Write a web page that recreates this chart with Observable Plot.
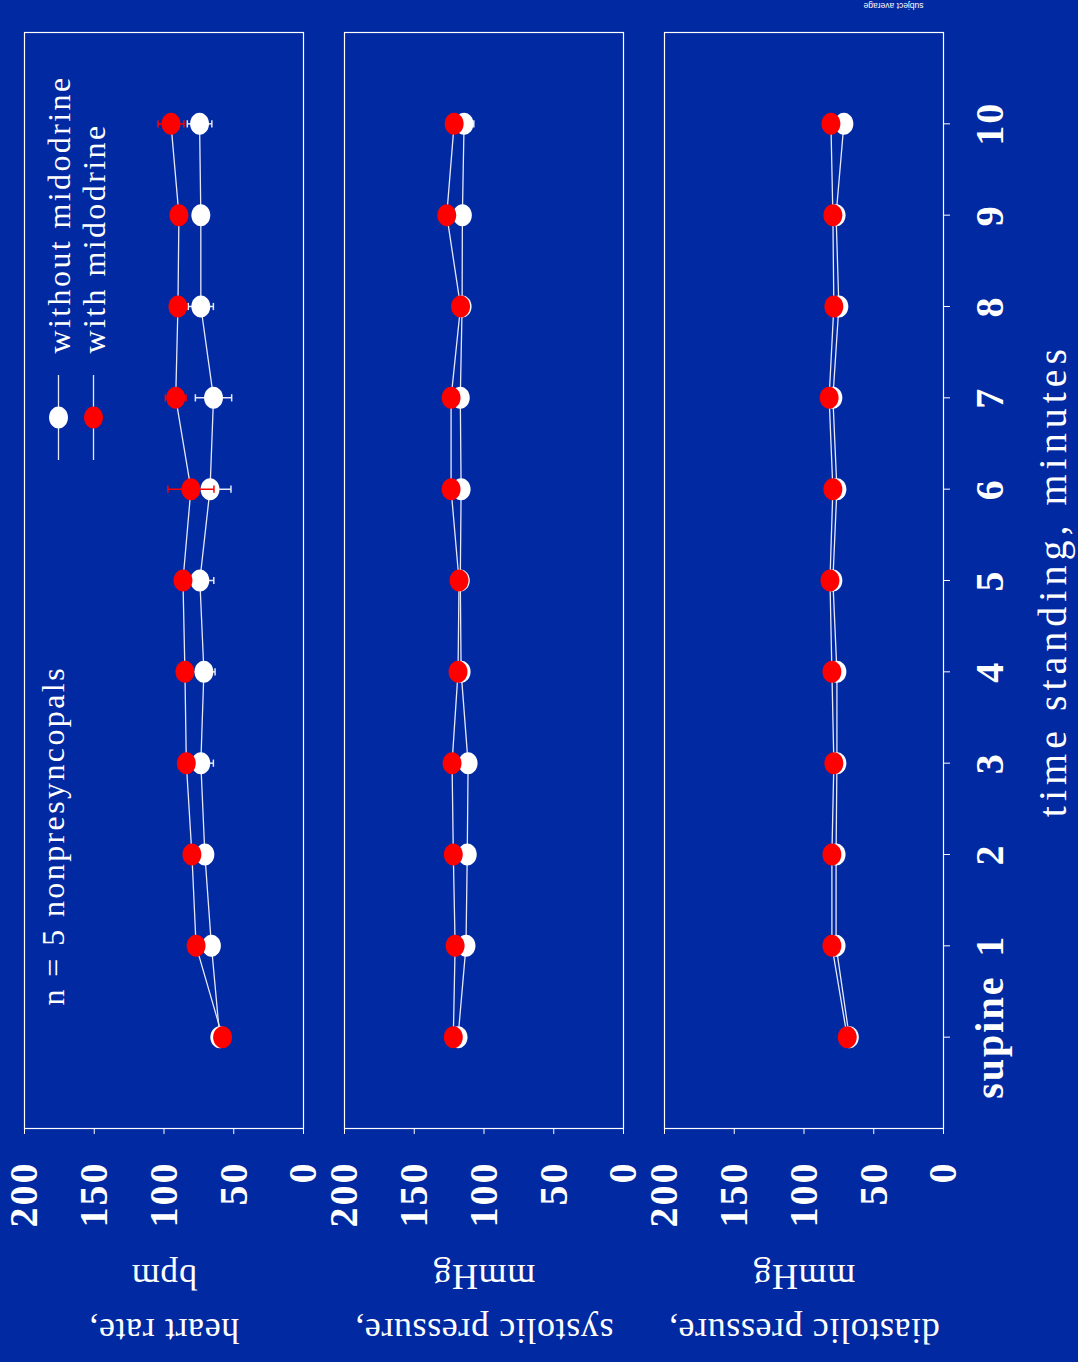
<!DOCTYPE html>
<html>
<head>
<meta charset="utf-8">
<script src="https://cdn.jsdelivr.net/npm/d3@7"></script>
<script src="https://cdn.jsdelivr.net/npm/@observablehq/plot@0.6"></script>
<style>
  html, body { margin: 0; padding: 0; background: #0029a2; }
  body { width: 1078px; height: 1362px; overflow: hidden; }
  #chart { position: absolute; left: 0; top: 0; }
</style>
</head>
<body>
<div id="chart"></div>
<script>
// Time points while standing (0 = supine) and their labels
const times = [0, 1, 2, 3, 4, 5, 6, 7, 8, 9, 10];
const timeLabels = ["supine", "1", "2", "3", "4", "5", "6", "7", "8", "9", "10"];
const valueTicks = [0, 50, 100, 150, 200];

const panels = ["hr", "sys", "dia"];
const panelTitles = ["heart rate,\nbpm", "systolic pressure,\nmmHg", "diastolic pressure,\nmmHg"];
const seriesNames = ["without midodrine", "with midodrine"];
const groupNote = "n = 5 nonpresyncopals";
const timeTitle = "time standing, minutes";
const footnote = "subject average";

// Heart rate, bpm (mean and standard error)
const hrWithout   = [60, 66, 70.7, 73.6, 71.4, 74.3, 67, 64.5, 73.6, 73.6, 74.5];
const hrWithoutSE = [2, 5, 6, 9, 8, 10, 15, 13, 9, 3, 8.8];
const hrWith      = [58, 77, 80, 84, 85, 86.4, 80.7, 91.6, 90, 89.3, 95];
const hrWithSE    = [2, 4, 2, 3, 2, 3, 16.5, 7.4, 4, 5, 9.3];

// Systolic pressure, mmHg
const sysWithout   = [118.6, 112.9, 112, 111.4, 116.4, 117, 116.4, 117, 115.7, 115.5, 114.3];
const sysWithoutSE = [3, 3, 3, 3, 3, 3, 3, 3, 3, 3, 7];
const sysWith      = [122, 120.7, 122, 122.9, 118.6, 117.9, 123.6, 123.6, 116.8, 126.7, 121.4];
const sysWithSE    = [3, 3, 3, 3, 3, 3, 3, 3, 3, 3, 3];

// Diastolic pressure, mmHg
const diaWithout   = [67.5, 77, 77, 76.4, 76.4, 79.3, 76.4, 79.3, 75, 77, 71.4];
const diaWithoutSE = [2, 2, 2, 2, 2, 2, 2, 2, 2, 2, 2];
const diaWith      = [69, 80, 80, 78.6, 80, 81.4, 79.3, 82, 78.6, 79.3, 80.7];
const diaWithSE    = [2, 2, 2, 2, 2, 2, 2, 2, 2, 2, 2];

const lineColor = "#e4e8f8";
const redColor = "#ff0000";

// Long-format table built from the arrays above
const sources = {
  hr:  [[hrWithout, hrWithoutSE], [hrWith, hrWithSE]],
  sys: [[sysWithout, sysWithoutSE], [sysWith, sysWithSE]],
  dia: [[diaWithout, diaWithoutSE], [diaWith, diaWithSE]]
};
const rows = panels.flatMap(panel =>
  seriesNames.flatMap((series, s) =>
    times.map((t, i) => ({panel, series, t, v: sources[panel][s][0][i], se: sources[panel][s][1][i]}))
  )
);
const without = rows.filter(d => d.series === seriesNames[0]);
const withM = rows.filter(d => d.series === seriesNames[1]);
const caps = data => data.flatMap(d => [{...d, x: d.v - d.se}, {...d, x: d.v + d.se}]);

// Slightly upright ellipse used for the markers
const ellipse = {
  draw(ctx, size) {
    const ry = Math.sqrt(size / Math.PI), rx = ry * 0.86, k = 0.5523;
    ctx.moveTo(rx, 0);
    ctx.bezierCurveTo(rx, k * ry, k * rx, ry, 0, ry);
    ctx.bezierCurveTo(-k * rx, ry, -rx, k * ry, -rx, 0);
    ctx.bezierCurveTo(-rx, -k * ry, -k * rx, -ry, 0, -ry);
    ctx.bezierCurveTo(k * rx, -ry, rx, -k * ry, rx, 0);
    ctx.closePath();
  }
};
// Short vertical stroke (error-bar caps and legend lines)
const vbar = {
  draw(ctx, size) {
    const r = Math.sqrt(size / Math.PI);
    ctx.moveTo(0, -r);
    ctx.lineTo(0, r);
  }
};

const legendWithout = [{panel: "hr", label: seriesNames[0]}];
const legendWith = [{panel: "hr", label: seriesNames[1]}];
const titleRows = panels.map((panel, i) => ({panel, title: panelTitles[i]}));

const chart = Plot.plot({
  width: 1078,
  height: 1362,
  marginLeft: 23,
  marginRight: 133,
  marginTop: 32,
  marginBottom: 234,
  style: {background: "transparent", color: "white", fontFamily: "'Liberation Serif', 'Times New Roman', serif", overflow: "visible"},
  fx: {domain: panels, axis: null, paddingInner: 0.1277, paddingOuter: 0},
  x: {domain: [0, 200], reverse: true},
  y: {domain: [-1, 11]},
  marks: [
    Plot.frame({stroke: "white", strokeWidth: 1.2}),
    Plot.axisX({ticks: valueTicks, tickSize: 6, tickPadding: 27, tickRotate: -90, textAnchor: "end", lineAnchor: "middle",
      fontSize: 40, fontWeight: "bold", label: null}),
    Plot.axisY({anchor: "right", ticks: times, tickFormat: t => timeLabels[times.indexOf(t)], tickSize: 6, tickPadding: 25,
      tickRotate: -90, textAnchor: "middle", lineAnchor: "top", fontSize: 40, fontWeight: "bold", label: null}),

    // connecting lines
    Plot.line(rows, {x: "v", y: "t", z: "series", fx: "panel", stroke: lineColor, strokeWidth: 1.3}),

    // without midodrine
    Plot.link(without, {x1: d => d.v - d.se, x2: d => d.v + d.se, y1: "t", y2: "t", fx: "panel", stroke: lineColor, strokeWidth: 1.5}),
    Plot.dot(caps(without), {x: "x", y: "t", fx: "panel", symbol: vbar, r: 3.6, stroke: lineColor, strokeWidth: 1.5}),
    Plot.dot(without, {x: "v", y: "t", fx: "panel", symbol: ellipse, r: 11, fill: "white"}),

    // with midodrine
    Plot.link(withM, {x1: d => d.v - d.se, x2: d => d.v + d.se, y1: "t", y2: "t", fx: "panel", stroke: redColor, strokeWidth: 1.5}),
    Plot.dot(caps(withM), {x: "x", y: "t", fx: "panel", symbol: vbar, r: 3.6, stroke: redColor, strokeWidth: 1.5}),
    Plot.dot(withM, {x: "v", y: "t", fx: "panel", symbol: ellipse, r: 11, fill: redColor}),

    // legend
    Plot.dot(legendWithout, {fx: "panel", frameAnchor: "top-left", dx: 34, dy: 385, symbol: vbar, r: 42.5, stroke: lineColor, strokeWidth: 1.3}),
    Plot.dot(legendWith, {fx: "panel", frameAnchor: "top-left", dx: 69, dy: 385, symbol: vbar, r: 42.5, stroke: lineColor, strokeWidth: 1.3}),
    Plot.dot(legendWithout, {fx: "panel", frameAnchor: "top-left", dx: 34, dy: 385, symbol: ellipse, r: 11, fill: "white"}),
    Plot.dot(legendWith, {fx: "panel", frameAnchor: "top-left", dx: 69, dy: 385, symbol: ellipse, r: 11, fill: redColor}),
    Plot.text(legendWithout, {fx: "panel", frameAnchor: "top-left", dx: 35, dy: 321, text: "label", rotate: -90,
      textAnchor: "start", lineAnchor: "middle", fontSize: 32, fill: "white"}),
    Plot.text(legendWith, {fx: "panel", frameAnchor: "top-left", dx: 70, dy: 321, text: "label", rotate: -90,
      textAnchor: "start", lineAnchor: "middle", fontSize: 32, fill: "white"}),

    // group size note
    Plot.text([{panel: "hr", note: groupNote}], {fx: "panel", frameAnchor: "bottom-left", dx: 29, dy: -123, text: "note",
      rotate: -90, textAnchor: "start", lineAnchor: "middle", fontSize: 32, fill: "white"}),

    // panel titles (value axes)
    Plot.text(titleRows, {fx: "panel", frameAnchor: "bottom", dy: 181, text: "title", rotate: 180, textAnchor: "middle",
      lineAnchor: "middle", lineHeight: 1.5, fontSize: 36, fill: "white"}),

    // time axis title
    Plot.text([{panel: "dia", label: timeTitle}], {fx: "panel", frameAnchor: "right", dx: 110, text: "label",
      rotate: -90, textAnchor: "middle", lineAnchor: "middle", fontSize: 40, fill: "white"}),

    // small footnote
    Plot.text([{panel: "dia", label: footnote}], {fx: "panel", frameAnchor: "top-right", dx: -50, dy: -27, text: "label",
      rotate: 180, textAnchor: "middle", lineAnchor: "middle", fontSize: 8.5, fontFamily: "'Liberation Sans', Arial, sans-serif",
      fill: "white"})
  ]
});

// Letter spacing for the wide-set lettering
const spacing = new Map([
  [seriesNames[0], "2.4px"], [seriesNames[1], "2.4px"], [groupNote, "2.4px"],
  [timeTitle, "5px"]
]);
d3.select(chart).selectAll("text").each(function () {
  const txt = this.textContent;
  if (spacing.has(txt)) this.style.letterSpacing = spacing.get(txt);
  else if (panelTitles.some(t => t.replace("\n", "") === txt)) this.style.letterSpacing = "0.6px";
  else if (timeLabels.includes(txt) || valueTicks.map(String).includes(txt)) this.style.letterSpacing = "2px";
});

document.getElementById("chart").appendChild(chart);
</script>
</body>
</html>
